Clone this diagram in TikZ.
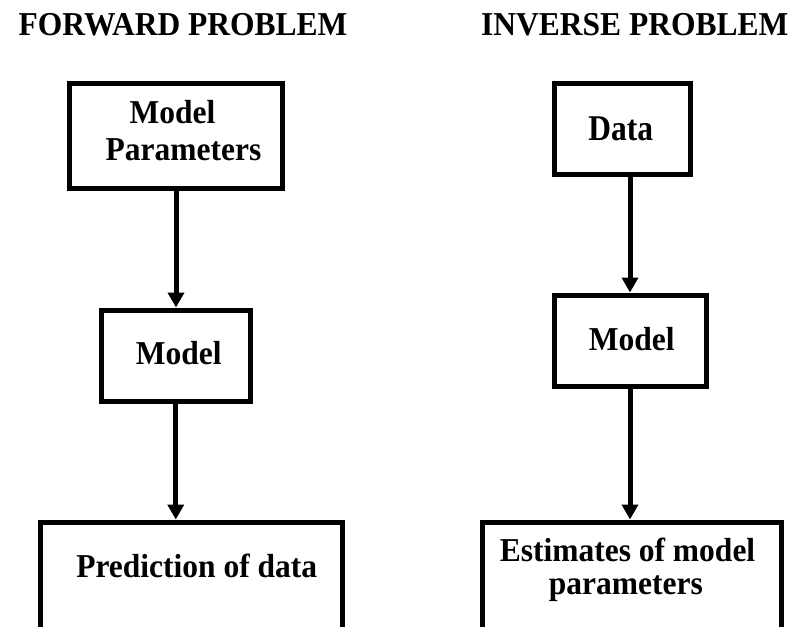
\documentclass[tikz,border=0pt]{standalone}
\usepackage{fontspec}
\usepackage{graphicx}
\setmainfont{Liberation Serif}
\usetikzlibrary{arrows.meta}
\newcommand\tallt[2][1.06]{\scalebox{1}[#1]{#2}}
\tikzset{
  boxnode/.style={draw, line width=5pt, inner sep=0pt, rectangle},
  lbl/.style={anchor=base, inner sep=0pt, font=\fontsize{31.5}{37}\selectfont\bfseries},
  flow/.style={line width=5pt, -{Triangle[width=16pt,length=15pt]}}
}
\begin{document}
\begin{tikzpicture}[x=1pt,y=-1pt]
\useasboundingbox (0,0) rectangle (794,626);
\clip (0,0) rectangle (794,626);
% titles
\node[lbl] (tf) at (183,36) {\tallt{FORWARD PROBLEM}};
\node[lbl] (ti) at (634.8,36) {\tallt{INVERSE PROBLEM}};
% forward boxes
\node[boxnode, minimum width=213pt, minimum height=105pt] (L1) at (176,136) {};
\node[boxnode, minimum width=149.5pt, minimum height=91pt] (L2) at (175.75,355.5) {};
\node[boxnode, minimum width=302.5pt, minimum height=156pt] (L3) at (191.25,600) {};
% inverse boxes
\node[boxnode, minimum width=136pt, minimum height=90.5pt] (R1) at (622,128.75) {};
\node[boxnode, minimum width=152pt, minimum height=91pt] (R2) at (630,340.5) {};
\node[boxnode, minimum width=299.5pt, minimum height=156pt] (R3) at (631.75,600) {};
% labels
\node[lbl] (L1a) at (172.5,123) {\tallt{Model}};
\node[lbl] (L1b) at (183.5,160) {\tallt{Parameters}};
\node[lbl] (L2a) at (178.8,364) {\tallt{Model}};
\node[lbl] (L3a) at (196.7,577) {\tallt{Prediction of data}};
\node[lbl] (R1a) at (620.8,140) {\tallt[1.15]{Data}};
\node[lbl] (R2a) at (631.7,350) {\tallt{Model}};
\node[lbl] (R3a) at (627.5,561.7) {\tallt{Estimates of model}};
\node[lbl] (R3b) at (625.8,594.5) {\tallt{parameters}};
% connectors
\draw[flow] (L1.south) -- (L1.south |- L2.north);
\draw[flow] (L2.south) -- (L2.south |- L3.north);
\draw[flow] (R2.north |- R1.south) -- (R2.north);
\draw[flow] (R2.south) -- (R2.south |- R3.north);
\end{tikzpicture}
\end{document}
